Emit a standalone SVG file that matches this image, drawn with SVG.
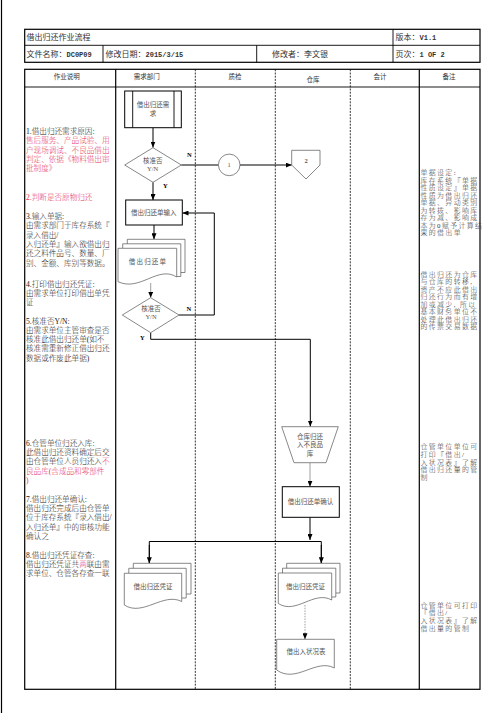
<svg xmlns="http://www.w3.org/2000/svg" width="504" height="713" viewBox="0 0 504 713">
<style>
.bd{fill:none;stroke:#000;stroke-width:1.2}
.ln{fill:none;stroke:#000;stroke-width:0.9}
.dl{fill:none;stroke:#000;stroke-width:0.8;stroke-dasharray:2,1.2}
.sh{fill:#fff;stroke:#555;stroke-width:0.7}
.bx{fill:#fff;stroke:#000;stroke-width:1}
.cn{fill:none;stroke:#000;stroke-width:1}
.gc{fill:none;stroke:#777;stroke-width:0.7}
.gd{fill:none;stroke:#777;stroke-width:0.7;stroke-dasharray:1.5,1.2}
text{font-family:"Liberation Serif","Noto Sans CJK SC",serif;}
.hd{font-size:8px;fill:#333}
.mo{font-family:"Liberation Mono","Noto Sans CJK SC",monospace;font-weight:bold}
.ch{font-size:6.5px;fill:#333;text-anchor:middle}
.lt{font-size:7.6px;fill:#222;font-weight:300}
.rd{fill:#e6325a}
.rt{font-size:6.9px;fill:#333;letter-spacing:1.4px;font-weight:300}
.st{font-size:6.5px;fill:#555;text-anchor:middle}
.lb{font-size:6.5px;fill:#000;font-weight:bold}
</style>
<defs>
<marker id="ah" markerUnits="userSpaceOnUse" markerWidth="6" markerHeight="5" refX="6" refY="2.5" orient="auto">
<path d="M0,0 L6,2.5 L0,5 z" fill="#000"/>
</marker>
</defs>

<line x1="1.5" y1="0" x2="1.5" y2="713" class="bd"/>

<g id="header">
<rect x="24.7" y="29.3" width="455.3" height="33" class="bd"/>
<line x1="24.7" y1="45.3" x2="480" y2="45.3" class="ln"/>
<line x1="393" y1="29.3" x2="393" y2="62.3" class="ln"/>
<line x1="103" y1="45.3" x2="103" y2="62.3" class="ln"/>
<line x1="256.7" y1="45.3" x2="256.7" y2="62.3" class="ln"/>
<text x="26.5" y="40" class="hd">借出归还作业流程</text>
<text x="395.5" y="40" class="hd">版本：<tspan class="mo" font-size="7">V1.1</tspan></text>
<text x="26.5" y="56.5" class="hd">文件名称：<tspan class="mo" font-size="7">DC0P09</tspan></text>
<text x="105.5" y="56.5" class="hd">修改日期：<tspan class="mo" font-size="7">2015/3/15</tspan></text>
<text x="272" y="56.5" class="hd">修改者：李文银</text>
<text x="395.5" y="56.5" class="hd">页次：<tspan class="mo" font-size="7">1  OF 2</tspan></text>
</g>

<g id="table">
<rect x="24.7" y="69.3" width="455.3" height="620" class="bd"/>
<line x1="24.7" y1="87" x2="480" y2="87" class="ln"/>
<line x1="115.7" y1="69.3" x2="115.7" y2="689.3" class="bd"/>
<line x1="419.3" y1="69.3" x2="419.3" y2="689.3" class="bd"/>
<line x1="195.3" y1="69.3" x2="195.3" y2="689.3" class="dl"/>
<line x1="275.3" y1="69.3" x2="275.3" y2="689.3" class="dl"/>
<line x1="350.3" y1="69.3" x2="350.3" y2="689.3" class="dl"/>
<text x="66.7" y="79" class="ch">作业说明</text>
<text x="146.7" y="79" class="ch">需求部门</text>
<text x="235" y="79" class="ch">质检</text>
<text x="313" y="82" class="ch">仓库</text>
<text x="380" y="79" class="ch">会计</text>
<text x="449" y="79" class="ch">备注</text>
</g>

<g id="desc">
<text class="lt">
<tspan x="26" y="134">1.借出归还需求原因:</tspan>
<tspan x="26" y="143.3" class="rd">售后服务、产品试验、用</tspan>
<tspan x="26" y="152.6" class="rd">户现场调试、不良品借出</tspan>
<tspan x="26" y="161.9" class="rd">判定、依据《物料借出审</tspan>
<tspan x="26" y="171.2" class="rd">批制度》</tspan>
<tspan x="26" y="199.5" class="rd">2.判断是否原物归还</tspan>
<tspan x="26" y="219">3.输入单据:</tspan>
<tspan x="26" y="228.3">由需求部门于库存系统『</tspan>
<tspan x="26" y="237.6">录入借出/</tspan>
<tspan x="26" y="246.9">入归还单』输入欲借出归</tspan>
<tspan x="26" y="256.2">还之料件品号、数量、厂</tspan>
<tspan x="26" y="265.5">别、金额、库别等数据。</tspan>
<tspan x="26" y="286.5">4.打印借出归还凭证:</tspan>
<tspan x="26" y="295.8">由需求单位打印借出单凭</tspan>
<tspan x="26" y="305.1">证</tspan>
<tspan x="26" y="323.5">5.核准否Y/N:</tspan>
<tspan x="26" y="332.8">由需求单位主管审查是否</tspan>
<tspan x="26" y="342.1">核准此借出归还单(如不</tspan>
<tspan x="26" y="351.4">核准需重新修正借出归还</tspan>
<tspan x="26" y="360.7">数据或作废此单据)</tspan>
<tspan x="26" y="445.8">6.仓管单位归还入库:</tspan>
<tspan x="26" y="455.1">此借出归还资料确定后交</tspan>
<tspan x="26" y="464.4">由仓管单位人员归还入<tspan class="rd">不</tspan></tspan>
<tspan x="26" y="473.7" class="rd">良品库(含成品和零部件</tspan>
<tspan x="26" y="483" class="rd">)</tspan>
<tspan x="26" y="501.8">7.借出归还单确认:</tspan>
<tspan x="26" y="511.1">借出归还完成后由仓管单</tspan>
<tspan x="26" y="520.4">位于库存系统『录入借出/</tspan>
<tspan x="26" y="529.7">入归还单』中的审核功能</tspan>
<tspan x="26" y="539">确认之</tspan>
<tspan x="26" y="557.5">8.借出归还凭证存查:</tspan>
<tspan x="26" y="566.8">借出归还凭证共<tspan class="rd">两</tspan>联由需</tspan>
<tspan x="26" y="576.1">求单位、仓管各存查一联</tspan>
</text>
</g>

<g id="notes">
<text class="rt">
<tspan x="420.5" y="175.2">单据设定:</tspan>
<tspan x="420.5" y="182.7">库存系统『单据</tspan>
<tspan x="420.5" y="190.2">性质设定』单据</tspan>
<tspan x="420.5" y="197.7">性质为借出归还</tspan>
<tspan x="420.5" y="205.2">单据、异动类别</tspan>
<tspan x="420.5" y="212.7">为转拨、影响库</tspan>
<tspan x="420.5" y="220.2">存为减、影响成</tspan>
<tspan x="420.5" y="227.7">本为0赋予计算结</tspan>
<tspan x="420.5" y="235.2">果的借出单</tspan>
<tspan x="420.5" y="276.5">借出归还为仓库</tspan>
<tspan x="420.5" y="284">与仓库的转移,</tspan>
<tspan x="420.5" y="291.5">资产不应此借出</tspan>
<tspan x="420.5" y="299">归还行为而有增</tspan>
<tspan x="420.5" y="306.5">加或减少, 所以</tspan>
<tspan x="420.5" y="314">基本财务单位不</tspan>
<tspan x="420.5" y="321.5">处理此借出归还</tspan>
<tspan x="420.5" y="329">的传票交易数据</tspan>
<tspan x="420.5" y="449.2">仓管单位单位可</tspan>
<tspan x="420.5" y="456.9">打印『借出/</tspan>
<tspan x="420.5" y="464.6">入状况表』了解</tspan>
<tspan x="420.5" y="472.3">借出归还量的管</tspan>
<tspan x="420.5" y="480">制</tspan>
<tspan x="420.5" y="607.5">仓管单位可打印</tspan>
<tspan x="420.5" y="615.2">『借出/</tspan>
<tspan x="420.5" y="622.9">入状况表』了解</tspan>
<tspan x="420.5" y="630.6">借出量的管制</tspan>
</text>
</g>

<g id="connectors">
<line x1="153" y1="127.7" x2="153" y2="147.5" class="cn" marker-end="url(#ah)"/>
<line x1="181.3" y1="165" x2="218.3" y2="165" class="cn"/>
<line x1="240" y1="165" x2="291.7" y2="165" class="cn" marker-end="url(#ah)"/>
<line x1="153" y1="182.3" x2="153" y2="200" class="cn" marker-end="url(#ah)"/>
<line x1="154" y1="225" x2="154" y2="239.3" class="cn" marker-end="url(#ah)"/>
<line x1="150.7" y1="283" x2="150.7" y2="297.7" class="gc" marker-end="url(#ah)"/>
<polyline points="179,315 214.3,315 214.3,213 182.5,213" class="cn" marker-end="url(#ah)"/>
<polyline points="150.7,332.7 150.7,339.3 310.3,339.3 310.3,426.5" class="cn" marker-end="url(#ah)"/>
<line x1="310" y1="462.7" x2="310" y2="486.7" class="gc" marker-end="url(#ah)"/>
<line x1="310" y1="517.3" x2="310" y2="540" class="cn" marker-end="url(#ah)"/>
<polyline points="149.3,563.3 149.3,541.5 321.3,541.5 321.3,563.3" class="cn"/>
<line x1="149.3" y1="545" x2="149.3" y2="563.3" class="cn" marker-end="url(#ah)"/>
<line x1="321.3" y1="545" x2="321.3" y2="563.3" class="cn" marker-end="url(#ah)"/>
<line x1="305" y1="605" x2="305" y2="639.3" class="gd" marker-end="url(#ah)"/>
<text x="187" y="157" class="lb">N</text>
<text x="163" y="188" class="lb">Y</text>
<text x="186.5" y="311" class="lb">N</text>
<text x="140" y="339.5" class="lb">Y</text>
</g>

<g id="n_demand">
<rect x="124.7" y="91" width="56.6" height="36.7" class="bx" stroke-width="1.2"/>
<line x1="132.7" y1="91" x2="132.7" y2="127.7" class="ln"/>
<line x1="174" y1="91" x2="174" y2="127.7" class="ln"/>
<text x="153" y="107" class="st">借出归还需</text>
<text x="153" y="116.3" class="st">求</text>
</g>

<g id="n_approve1">
<polygon points="153,147.7 181.3,165 153,182.3 124.7,165" class="sh"/>
<text x="152.7" y="163" class="st">核准否</text>
<text x="152.7" y="171.3" class="st">Y/N</text>
</g>

<g id="n_conn1">
<circle cx="229.2" cy="164.9" r="10.8" class="sh"/>
<text x="229.2" y="167.3" class="st" fill="#000">1</text>
</g>

<g id="n_conn2">
<polygon points="291.7,150.3 320,150.3 320,165 306,179 291.7,165" class="sh"/>
<text x="306" y="163" class="st" fill="#000" font-weight="bold">2</text>
</g>

<g id="n_input">
<rect x="125.7" y="200" width="56.6" height="25" class="bx"/>
<text x="153.7" y="215" class="st">借出归还单输入</text>
</g>

<g id="n_form">
<path d="M127.3,248.3 V239.3 H185 V272.5 H176.7" class="sh"/>
<path d="M122.7,248.3 V243.8 H180.8 V276.5 H176.7" class="sh"/>
<path d="M118,248.3 H176.7 V277 C158,265 140,292 118,281.7 Z" class="sh"/>
<text x="148" y="264" class="st" font-size="7" letter-spacing="1.2">借出归还单</text>
</g>

<g id="n_approve2">
<polygon points="150.7,297.7 179,315 150.7,332.7 122.3,315" class="sh"/>
<text x="151" y="311" class="st">核准否</text>
<text x="151" y="319.3" class="st">Y/N</text>
</g>

<g id="n_store">
<polygon points="281.7,426.7 338.3,426.7 326,462.7 294,462.7" class="sh"/>
<text x="310" y="439" class="st">仓库归还</text>
<text x="310" y="447.3" class="st">入不良品</text>
<text x="310" y="455.6" class="st">库</text>
</g>

<g id="n_confirm">
<rect x="282.3" y="486.7" width="57" height="30.6" class="bx"/>
<text x="310.5" y="504" class="st">借出归还单确认</text>
</g>

<g id="n_voucher1">
<path d="M133.3,573.3 V563.3 H191 V594 H186.2" class="sh"/>
<path d="M128.8,573.3 V568.3 H186.2 V598 H181.7" class="sh"/>
<path d="M124.3,573.3 H181.7 V601.5 C163,592 143,617 124.3,605 Z" class="sh"/>
<text x="153" y="588.5" class="st">借出归还凭证</text>
</g>

<g id="n_voucher2">
<path d="M286.7,573 V563.3 H340 V593 H335.8" class="sh"/>
<path d="M282.5,573 V568.2 H335.8 V597 H331.7" class="sh"/>
<path d="M278.3,573 H331.7 V600 C314,590 296,615 278.3,603.5 Z" class="sh"/>
<text x="305.4" y="588.5" class="st">借出归还凭证</text>
</g>

<g id="n_report">
<path d="M276.7,639.3 H334.3 V668 C316,658 296,684 276.7,670 Z" class="sh"/>
<text x="306" y="654.2" class="st">借出入状况表</text>
</g>
</svg>
